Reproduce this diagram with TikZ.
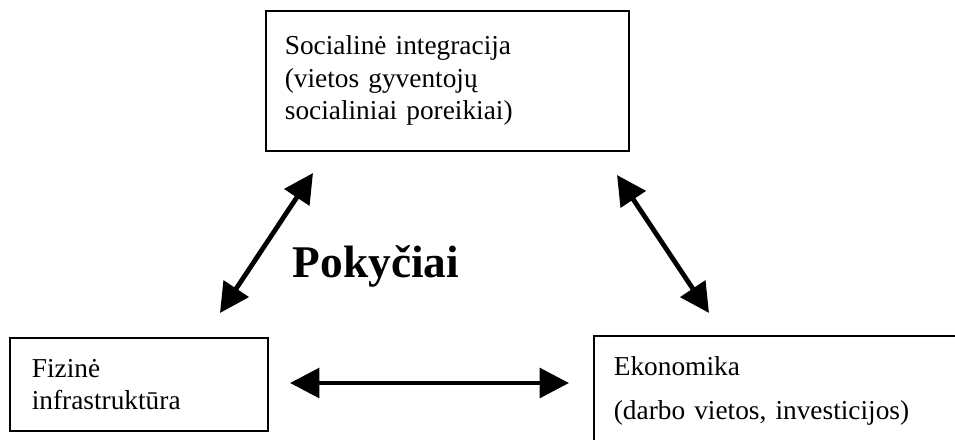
\documentclass[tikz,border=0pt]{standalone}
\usepackage{fontspec}
\setmainfont{Liberation Serif}
\usetikzlibrary{positioning,calc,arrows.meta}

\begin{document}
\begin{tikzpicture}[x=0.75pt, y=-0.75pt,
    box/.style={rectangle, draw, line width=1.3pt, align=left, anchor=north west, font=\fontsize{20.5}{24.4}\selectfont},
    arrow/.style={{Triangle[length=22pt,width=22pt]}-{Triangle[length=22pt,width=22pt]}, line width=3.6pt}
]
\useasboundingbox (0,0) rectangle (955,439);
\clip (0,0) rectangle (955,439);
\fill[white] (0,0) rectangle (955,439);

\node[box, minimum width=363*0.75pt, minimum height=140*0.75pt, text width=325*0.75pt, inner xsep=18*0.75pt] (soc) at (265,10)
  {Socialinė integracija\\(vietos gyventojų\\socialiniai poreikiai)};
\node[box, minimum width=258*0.75pt, minimum height=93*0.75pt, text width=214*0.75pt, inner xsep=21*0.75pt] (fiz) at (9,337)
  {\rule{0pt}{13pt}Fizinė\\infrastruktūra};
\node[box, minimum width=400*0.75pt, minimum height=110*0.75pt, text width=360*0.75pt, inner xsep=20*0.75pt, inner ysep=5*0.75pt, anchor=north west] (eko) at (593,335)
  {Ekonomika\\[9pt](darbo vietos, investicijos)};

\node[font=\fontsize{34}{40}\bfseries\selectfont] (pok) at (376,266) {Pokyčiai};

% arrow end points
\coordinate (fizT) at (220,313);
\coordinate (socL) at (313,173);
\coordinate (socR) at (617,175);
\coordinate (ekoT) at (709,313);
\coordinate (fizR) at (290,383);
\coordinate (ekoL) at (569,383);

\draw[arrow] (fizT) -- (socL);
\draw[arrow] (socR) -- (ekoT);
\draw[arrow] (fizR) -- (ekoL);
\end{tikzpicture}
\end{document}
